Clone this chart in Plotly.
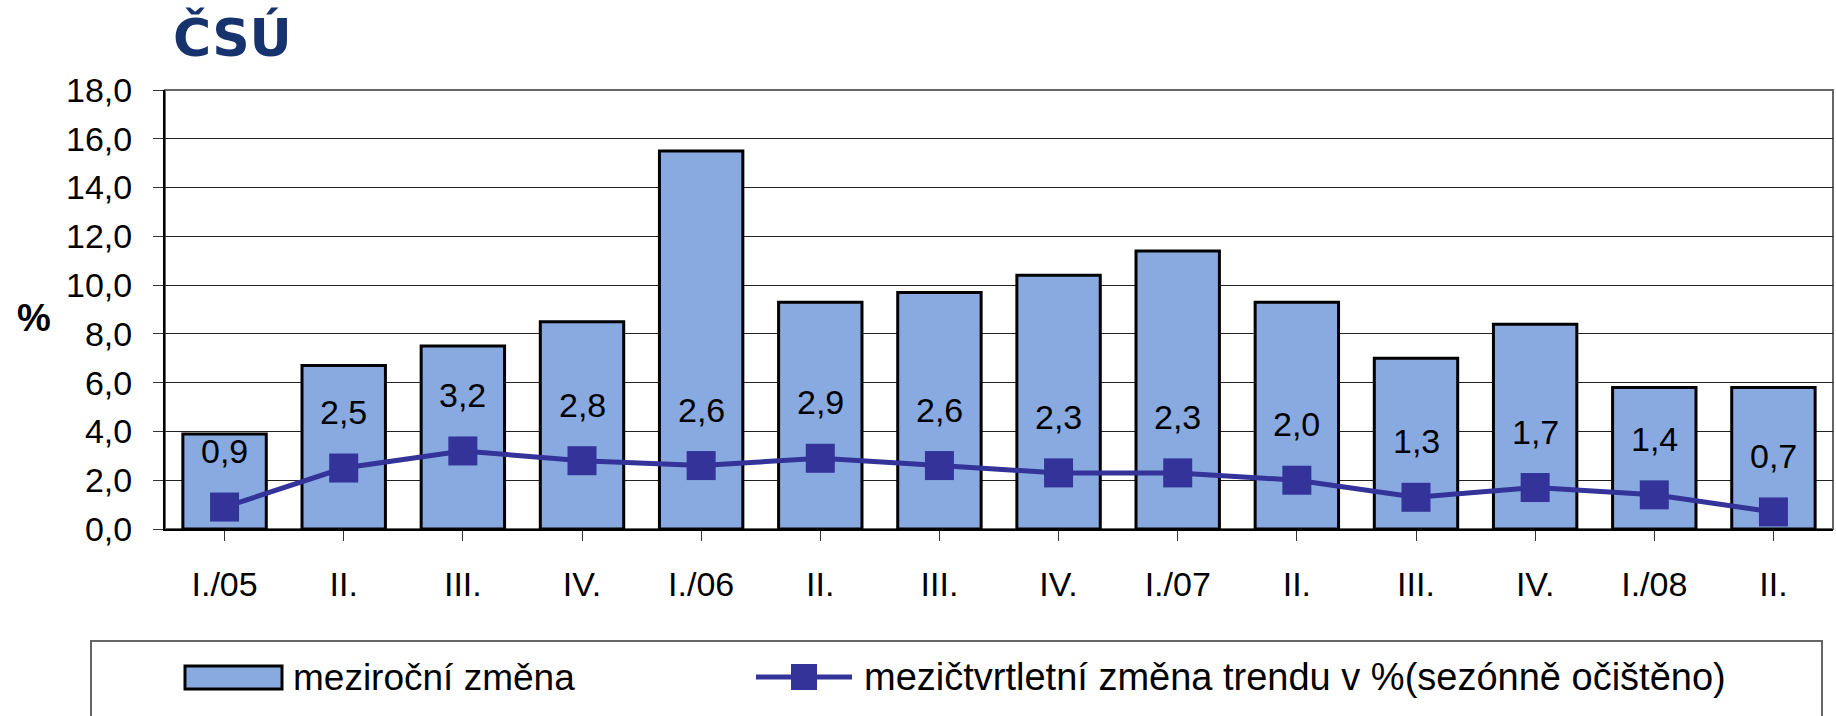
import plotly.graph_objects as go

categories = ["I./05", "II.", "III.", "IV.", "I./06", "II.", "III.", "IV.",
              "I./07", "II.", "III.", "IV.", "I./08", "II."]
yoy_change = [3.9, 6.7, 7.5, 8.5, 15.5, 9.3, 9.7, 10.4, 11.4, 9.3, 7.0, 8.4, 5.8, 5.8]
qoq_trend = [0.9, 2.5, 3.2, 2.8, 2.6, 2.9, 2.6, 2.3, 2.3, 2.0, 1.3, 1.7, 1.4, 0.7]
series_names = ["meziroční změna", "mezičtvrtletní změna trendu v %(sezónně očištěno)"]
y_ticks = [0, 2, 4, 6, 8, 10, 12, 14, 16, 18]

W, H = 1836, 716
L, R, T, B = 165, 1833, 90, 529  # plot area in px
BAR_COLOR = "#88AAE0"
LINE_COLOR = "#333399"
FONT = "Liberation Sans"

xs = list(range(len(categories)))

def px2x(px):
    return (px - L) / (R - L)

def px2y(py):
    return (B - py) / (B - T)

fig = go.Figure()
fig.add_trace(go.Bar(
    x=xs, y=yoy_change, name=series_names[0],
    marker=dict(color=BAR_COLOR, line=dict(color="black", width=3)),
    width=0.7, showlegend=False, hoverinfo="skip",
))
fig.add_trace(go.Scatter(
    x=xs, y=qoq_trend, name=series_names[1], mode="lines+markers",
    line=dict(color=LINE_COLOR, width=5),
    marker=dict(symbol="square", size=29, color=LINE_COLOR),
    showlegend=False, hoverinfo="skip",
))

annotations = []
for xi, v in zip(xs, qoq_trend):
    annotations.append(dict(
        x=xi, y=v, xref="x", yref="y", text=f"{v:.1f}".replace(".", ","),
        xanchor="center", yanchor="middle",
        showarrow=False, yshift=56, font=dict(family=FONT, size=34, color="black"),
    ))

def paper_text(xpx, ypx, text, size, family=FONT, color="black", xanchor="center"):
    return dict(x=px2x(xpx), y=px2y(ypx), xref="paper", yref="paper", text=text,
                xanchor=xanchor, yanchor="middle", showarrow=False,
                font=dict(family=family, size=size, color=color))

# y-axis title "%"
annotations.append(paper_text(34, 318, "<b>%</b>", 38))
# logo
annotations.append(paper_text(232, 37, "<b>ČSÚ</b>", 52, family="DejaVu Sans", color="#17336E"))
# legend texts
annotations.append(paper_text(291, 677, series_names[0], 37, xanchor="left"))
annotations.append(paper_text(862, 677, series_names[1], 38, xanchor="left"))

shapes = [
    # plot border (top / right)
    dict(type="rect", xref="paper", yref="paper", x0=0, x1=1, y0=0, y1=1,
         line=dict(color="#666666", width=2), layer="below"),
    # legend box
    dict(type="rect", xref="paper", yref="paper", x0=px2x(91), x1=px2x(1822),
         y0=px2y(740), y1=px2y(641), line=dict(color="#666666", width=2)),
    # bar swatch
    dict(type="rect", xref="paper", yref="paper", x0=px2x(185), x1=px2x(282),
         y0=px2y(689), y1=px2y(666), fillcolor=BAR_COLOR, line=dict(color="black", width=3)),
    # line swatch
    dict(type="line", xref="paper", yref="paper", x0=px2x(756), x1=px2x(852),
         y0=px2y(677), y1=px2y(677), line=dict(color=LINE_COLOR, width=5)),
    dict(type="rect", xref="paper", yref="paper", x0=px2x(791), x1=px2x(817),
         y0=px2y(690), y1=px2y(664), fillcolor=LINE_COLOR, line=dict(color=LINE_COLOR, width=0)),
]

fig.update_layout(
    width=W, height=H,
    margin=dict(l=L, r=W - R, t=T, b=H - B, pad=0),
    paper_bgcolor="white", plot_bgcolor="white",
    separators=", ",
    font=dict(family=FONT, size=34, color="black"),
    bargap=0.3,
    annotations=annotations,
    shapes=shapes,
    showlegend=False,
)
fig.update_xaxes(
    tickmode="array", tickvals=xs, ticktext=categories,
    range=[-0.5, len(categories) - 0.5],
    showline=True, linecolor="black", linewidth=2,
    ticks="outside", ticklen=10, tickcolor="#333333", tickwidth=1,
    tickson="boundaries", showgrid=False, zeroline=False,
    tickfont=dict(family=FONT, size=34), ticklabelstandoff=14,
)
fig.update_yaxes(
    range=[0, 18], tickvals=y_ticks, tickformat=".1f",
    showline=True, linecolor="black", linewidth=2,
    ticks="outside", ticklen=10, tickcolor="#333333", tickwidth=1,
    showgrid=True, gridcolor="#222222", gridwidth=1, zeroline=False,
    tickfont=dict(family=FONT, size=34), ticklabelstandoff=14,
)

fig.write_html("out.html", config={"displayModeBar": False},
               post_script="document.body.style.margin='0';")
